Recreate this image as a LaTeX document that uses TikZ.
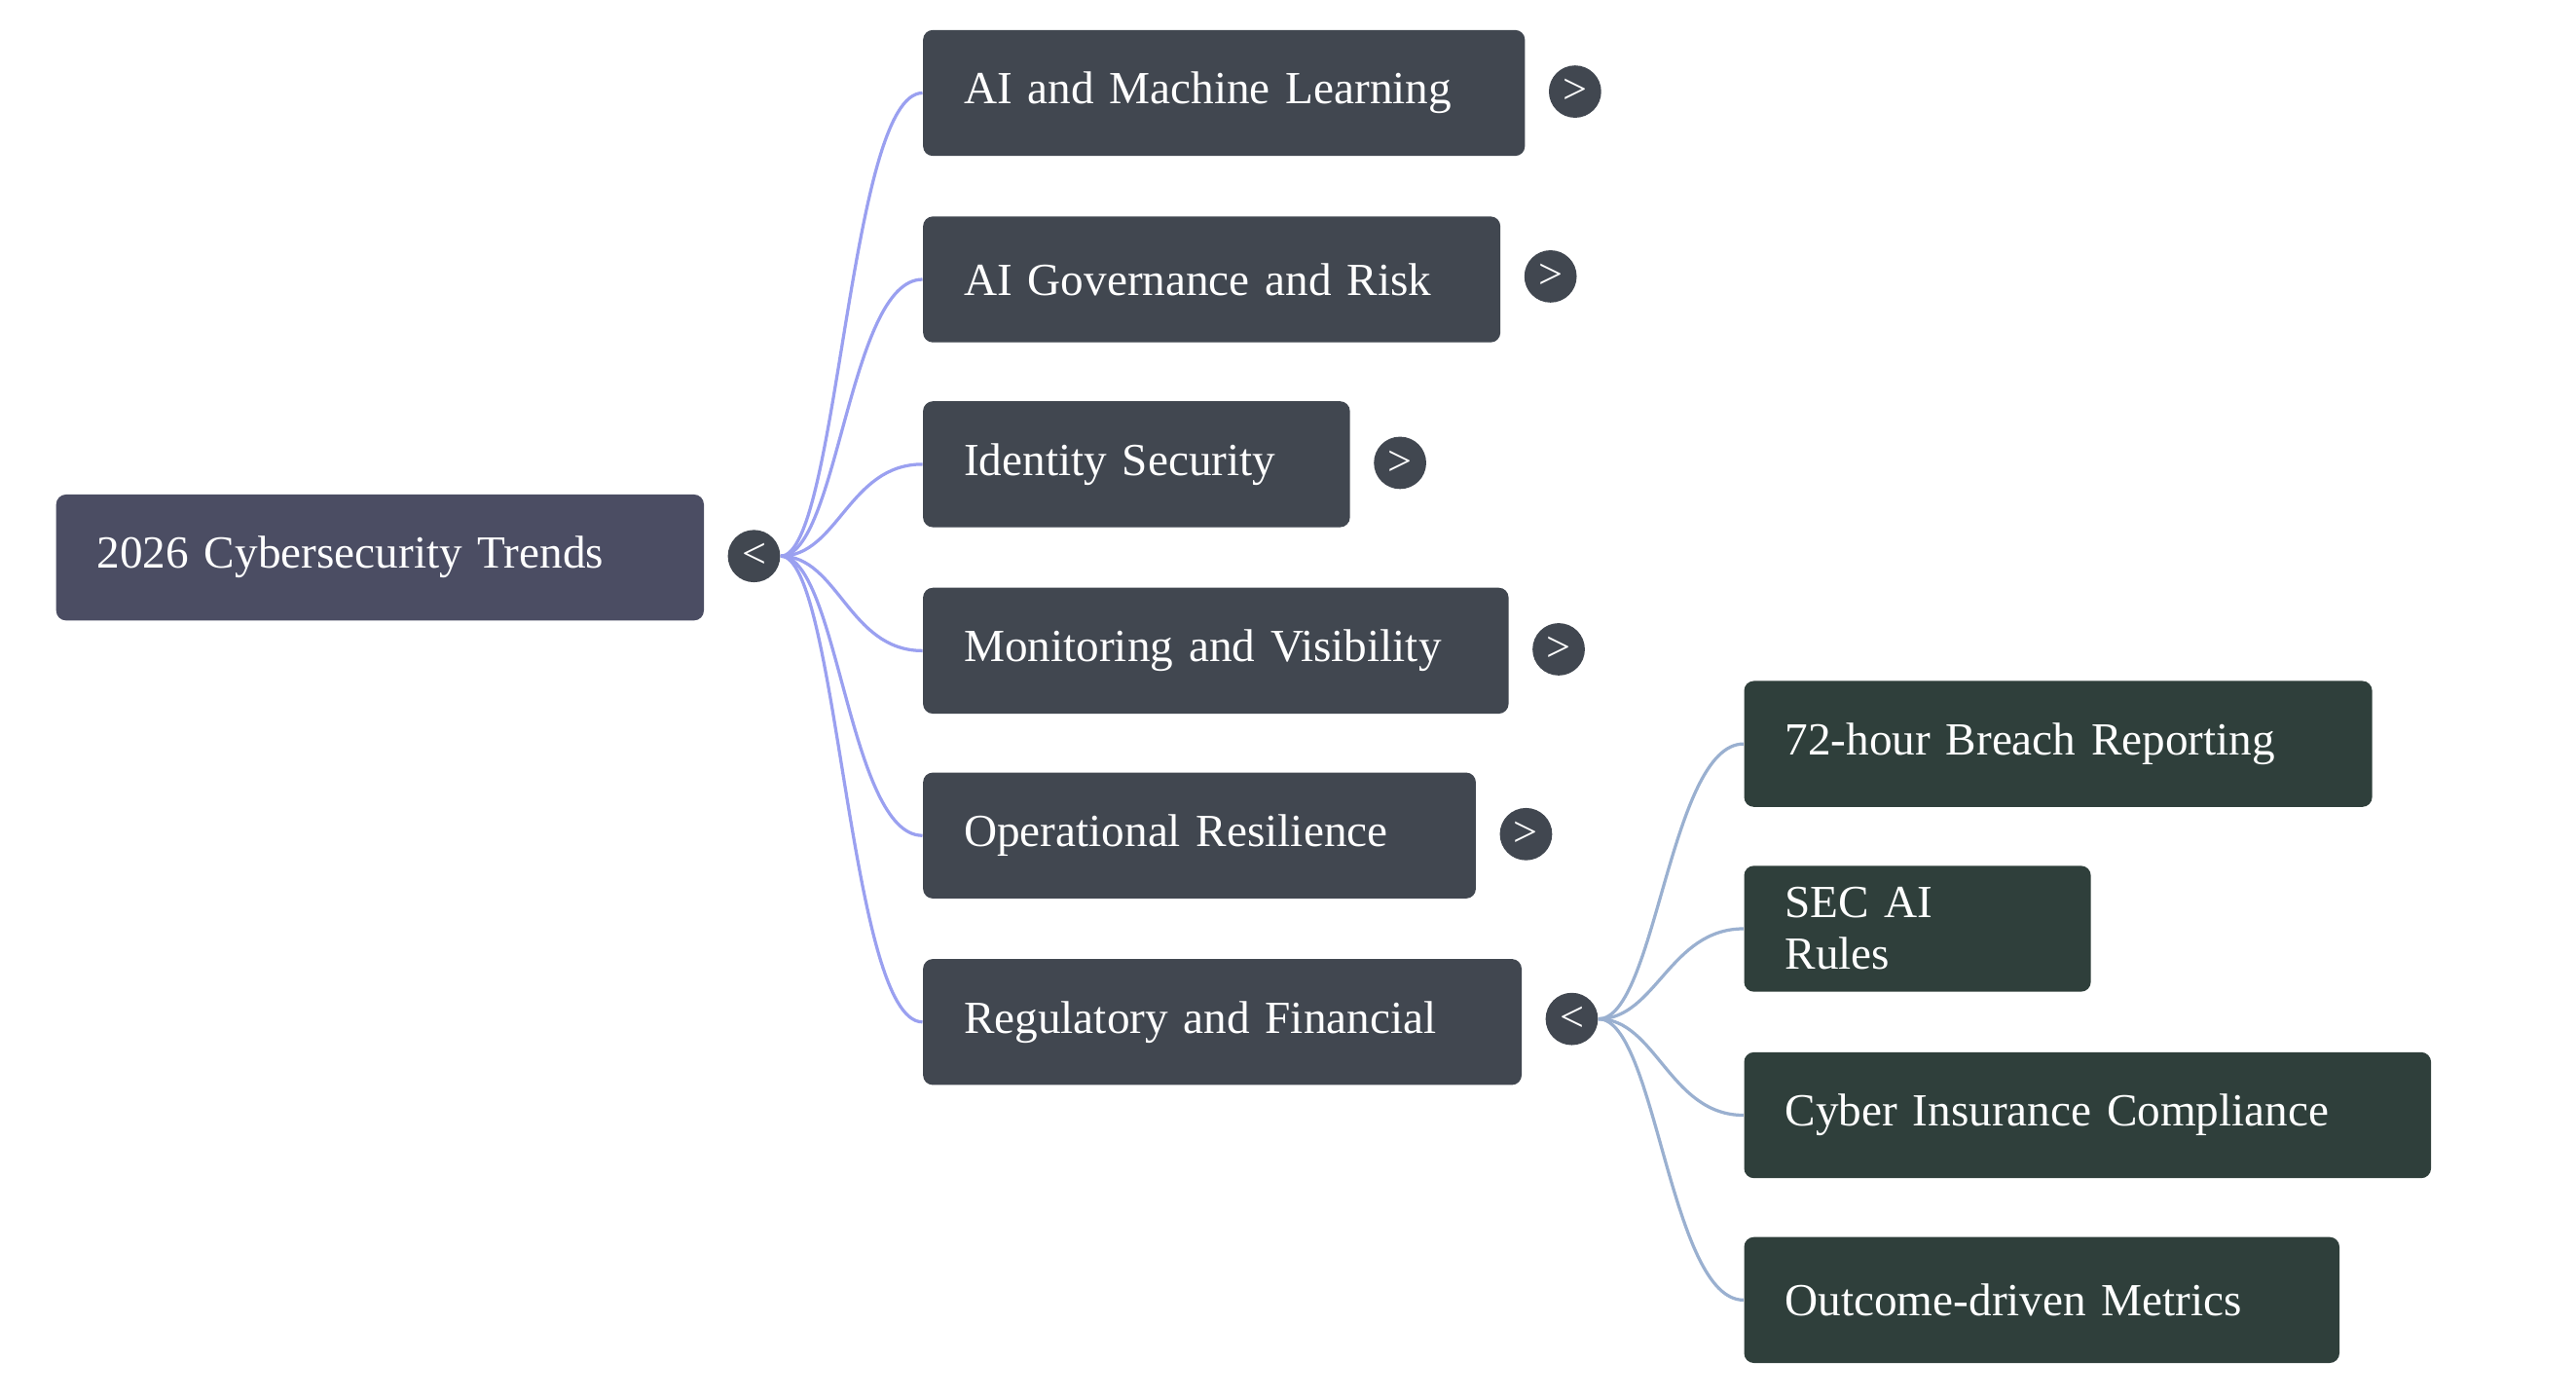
\documentclass[tikz,border=0pt]{standalone}
\usepackage{fontspec}
\setmainfont{Liberation Serif}
\usetikzlibrary{calc}
\definecolor{rootc}{HTML}{4B4D63}
\definecolor{kidc}{HTML}{414750}
\definecolor{gkc}{HTML}{2F3F3B}
\definecolor{e1c}{HTML}{9AA0F0}
\definecolor{e2c}{HTML}{9AB0D0}
\tikzset{
 box/.style={rounded corners=0.12cm,draw=none,text=white,font=\fontsize{16}{18}\selectfont,inner xsep=0.5cm,inner ysep=0pt,minimum height=1.54cm,anchor=north west,align=left},
 knob/.style={circle,fill=kidc,text=white,minimum size=0.64cm,inner sep=0pt,font=\fontsize{15}{15}\selectfont},
 e1/.style={draw=e1c,line width=1.1pt},
 e2/.style={draw=e2c,line width=1.1pt}
}
\newcommand\lnk[3]{\draw[#1] (#2.east) .. controls ($(#2.east)+(0.7,0)$) and ($(#3.west)+(-0.9,0)$) .. (#3.west);}
\begin{document}
\begin{tikzpicture}
\useasboundingbox (0,0) rectangle (31.5,-17.09);
\node[box,fill=rootc,minimum width=7.92cm,text width=6.92cm] (root) at (0.68,-6.04) {2026 Cybersecurity Trends};
\node[box,fill=kidc,minimum width=7.36cm,text width=6.36cm] (c1) at (11.28,-0.36) {AI and Machine Learning};
\node[box,fill=kidc,minimum width=7.06cm,text width=6.06cm] (c2) at (11.28,-2.64) {AI Governance and Risk};
\node[box,fill=kidc,minimum width=5.22cm,text width=4.22cm] (c3) at (11.28,-4.9) {Identity Security};
\node[box,fill=kidc,minimum width=7.16cm,text width=6.16cm] (c4) at (11.28,-7.18) {Monitoring and Visibility};
\node[box,fill=kidc,minimum width=6.76cm,text width=5.76cm] (c5) at (11.28,-9.44) {Operational Resilience};
\node[box,fill=kidc,minimum width=7.32cm,text width=6.32cm] (c6) at (11.28,-11.72) {Regulatory and Financial};
\node[box,fill=gkc,minimum width=7.68cm,text width=6.68cm] (g1) at (21.32,-8.32) {72-hour Breach Reporting};
\node[box,fill=gkc,minimum width=4.24cm,text width=3.24cm] (g2) at (21.32,-10.58) {SEC AI Rules};
\node[box,fill=gkc,minimum width=8.4cm,text width=7.4cm] (g3) at (21.32,-12.86) {Cyber Insurance Compliance};
\node[box,fill=gkc,minimum width=7.28cm,text width=6.28cm] (g4) at (21.32,-15.12) {Outcome-driven Metrics};
\node[knob] (kr) at (9.22,-6.8) {<};
\node[knob] (k1) at (19.26,-1.12) {>};
\node[knob] (k2) at (18.96,-3.38) {>};
\node[knob] (k3) at (17.12,-5.66) {>};
\node[knob] (k4) at (19.06,-7.94) {>};
\node[knob] (k5) at (18.66,-10.2) {>};
\node[knob] (k6) at (19.22,-12.46) {<};
\foreach \c in {c1,c2,c3,c4,c5,c6}{\lnk{e1}{kr}{\c}}
\foreach \g in {g1,g2,g3,g4}{\lnk{e2}{k6}{\g}}
\end{tikzpicture}
\end{document}
